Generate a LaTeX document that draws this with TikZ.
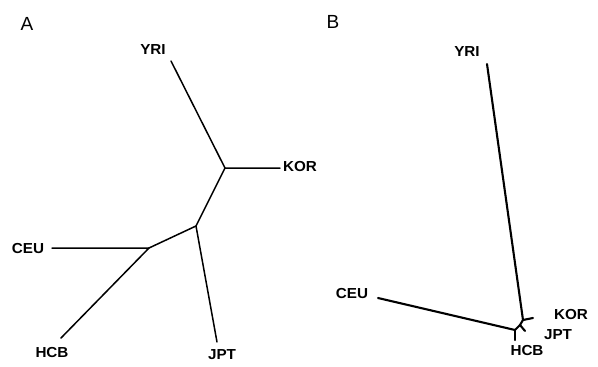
\documentclass[tikz,border=0pt]{standalone}
\usepackage{fontspec}
\setmainfont{Liberation Sans}
\begin{document}
\begin{tikzpicture}[x=1pt,y=-1pt,
  br/.style={line width=1.5pt,line cap=round},
  brb/.style={line width=2.1pt,line cap=round},
  lab/.style={font=\fontsize{14.5}{15}\selectfont\bfseries,inner sep=0pt,xscale=1.05},
  panel/.style={font=\fontsize{19}{21}\selectfont,inner sep=0pt}]
\useasboundingbox (0,0) rectangle (598,367);
% Panel A
\node[panel] (pA) at (27,24) {A};
\coordinate (a1) at (225,168);
\coordinate (a2) at (196,226);
\coordinate (a3) at (149,248);
\coordinate (aY) at (171,61);
\coordinate (aK) at (280,168);
\coordinate (aJ) at (217,342);
\coordinate (aC) at (52,248);
\coordinate (aH) at (61,338);
\node[lab] (tYa) at (153,50) {YRI};
\node[lab] (tKa) at (300,167) {KOR};
\node[lab] (tJa) at (222,355) {JPT};
\node[lab] (tCa) at (28,249) {CEU};
\node[lab] (tHa) at (52,353) {HCB};
\draw[br] (aY) -- (a1) -- (aK);
\draw[br] (a1) -- (a2) -- (aJ);
\draw[br] (a2) -- (a3) -- (aC);
\draw[br] (a3) -- (aH);
% Panel B
\node[panel] (pB) at (333,22) {B};
\coordinate (b1) at (523,320);
\coordinate (b2) at (520,325);
\coordinate (b3) at (515,330);
\coordinate (bY) at (487,64);
\coordinate (bK) at (533,318);
\coordinate (bJ) at (525,331);
\coordinate (bC) at (378,298);
\coordinate (bH) at (515,340);
\node[lab] (tYb) at (467,52) {YRI};
\node[lab] (tKb) at (571,315) {KOR};
\node[lab] (tJb) at (558,335) {JPT};
\node[lab] (tCb) at (352,294) {CEU};
\node[lab] (tHb) at (527,351) {HCB};
\draw[brb] (bY) -- (b1) -- (bK);
\draw[brb] (b1) -- (b2) -- (bJ);
\draw[brb] (b2) -- (b3) -- (bC);
\draw[brb] (b3) -- (bH);
\end{tikzpicture}
\end{document}
